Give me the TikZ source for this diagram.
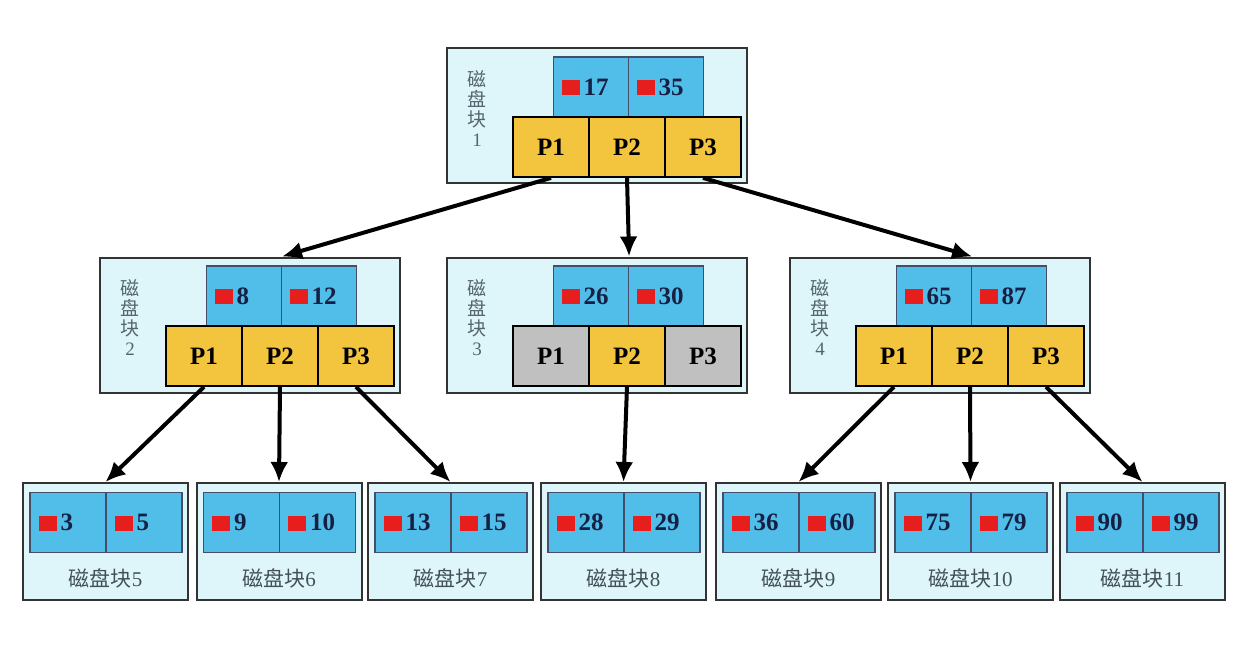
\documentclass[tikz,border=0pt]{standalone}
\usepackage{fontspec}
\setmainfont{Liberation Serif}
\newfontfamily\cjk{Noto Sans CJK SC}
\usetikzlibrary{arrows.meta,positioning}
\definecolor{blockbg}{RGB}{222,246,250}
\definecolor{keyblue}{RGB}{80,190,232}
\definecolor{pgold}{RGB}{243,196,62}
\definecolor{pgray}{RGB}{192,192,192}
\definecolor{keyred}{RGB}{230,30,30}
\definecolor{numtxt}{RGB}{22,32,68}
\definecolor{lbltxt}{RGB}{85,100,110}

\newcommand{\keymark}{\textcolor{keyred}{\rule{18pt}{15pt}}}

\tikzset{
  outerbox/.style={draw=black!80,line width=2pt,fill=blockbg,inner sep=0pt},
  keycell/.style={draw=numtxt!80,line width=1.2pt,fill=keyblue,minimum width=75pt,
    minimum height=60pt,inner sep=0pt,text width=59pt,align=left,text=numtxt,
    font=\fontsize{25}{25}\selectfont\bfseries},
  pcell/.style={draw=black,line width=1.8pt,fill=pgold,minimum width=76pt,
    minimum height=60pt,inner sep=0pt,font=\fontsize{25}{25}\selectfont\bfseries},
  pgraycell/.style={pcell,fill=pgray},
  blklabel/.style={align=center,text=lbltxt,inner sep=0pt,
    font=\fontsize{19}{20}\selectfont},
  leaflabel/.style={text=lbltxt!80!black,inner sep=0pt,
    font=\fontsize{21}{21}\selectfont},
  ptr/.style={-{Latex[length=20pt,width=18pt]},line width=4pt}
}

\begin{document}
\begin{tikzpicture}[x=1pt,y=-1pt]
\useasboundingbox (0,0) rectangle (1240,650);

% index blocks
\foreach \b/\cx/\cy/\ka/\kb/\sa/\sc in {1/597/116/17/35/pcell/pcell,
    2/250/325/8/12/pcell/pcell, 3/597/325/26/30/pgraycell/pgraycell,
    4/940/325/65/87/pcell/pcell}{
  \node[outerbox,minimum width=300pt,minimum height=135pt] (b\b) at (\cx,\cy) {};
  \node[keycell] (b\b ka) at (\cx-6,\cy-29) {\keymark\,\ka};
  \node[keycell] (b\b kb) at (\cx+69,\cy-29) {\keymark\,\kb};
  \node[style=\sa] (b\b p1) at (\cx-46,\cy+31) {P1};
  \node[pcell] (b\b p2) at (\cx+30,\cy+31) {P2};
  \node[style=\sc] (b\b p3) at (\cx+106,\cy+31) {P3};
  \node[blklabel] (b\b lab) at (\cx-120,\cy-7) {\cjk 磁\\\cjk 盘\\\cjk 块\\\b};
}

% leaf blocks
\foreach \l/\cx/\ka/\kb in {5/105.5/3/5, 6/279/9/10, 7/450.5/13/15, 8/623.5/28/29,
    9/798.5/36/60, 10/970.5/75/79, 11/1142.5/90/99}{
  \node[outerbox,minimum width=165pt,minimum height=117pt] (l\l) at (\cx,541.5) {};
  \node[keycell,minimum width=76pt] (l\l ka) at (\cx-37.5,522.5) {\keymark\,\ka};
  \node[keycell,minimum width=76pt] (l\l kb) at (\cx+38.5,522.5) {\keymark\,\kb};
  \node[leaflabel] (l\l lab) at (\cx,578) {{\cjk 磁盘块}\l};
}

% pointers
\draw[ptr] (b1p1.south) -- (b2ka.east |- b2.north);
\draw[ptr] (b1p2.south) -- (b3ka.east |- b3.north);
\draw[ptr] (b1p3.south) -- (b4ka.east |- b4.north);
\draw[ptr] (b2p1.south) -- (l5.north);
\draw[ptr] (b2p2.south) -- (l6.north);
\draw[ptr] (b2p3.south) -- (l7.north);
\draw[ptr] (b3p2.south) -- (l8.north);
\draw[ptr] (b4p1.south) -- (l9.north);
\draw[ptr] (b4p2.south) -- (l10.north);
\draw[ptr] (b4p3.south) -- (l11.north);
\end{tikzpicture}
\end{document}
